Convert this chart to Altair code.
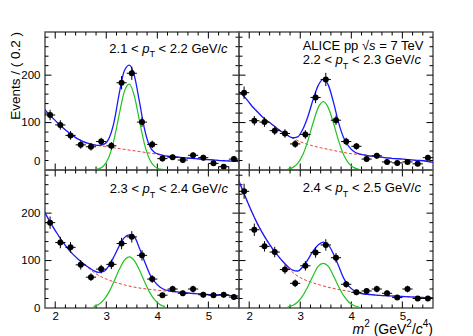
import altair as alt
import pandas as pd

FONT = "Liberation Sans"
W_PANEL = 194
H_PANEL = 138
X_DOMAIN = [1.8, 5.6]
Y_DOMAIN = [0, 291]
BIN_HALF = 0.1

# ---- data points (bin centres, counts, errors) ----
m2 = [1.9, 2.1, 2.3, 2.5, 2.7, 2.9, 3.1, 3.3, 3.5, 3.7, 3.9, 4.1, 4.3, 4.5, 4.7, 4.9, 5.1, 5.3, 5.5]

counts_tl = [116, 95, 73, 53, 49, 60, 51, 184, 204, 101, 54, 24, 27, 21, 31, 26, 14, 7, 23]
counts_tr = [163, 104, 101, 83, 77, 55, 75, 153, 191, 105, 60, 50, 23, 30, 17, 15, 17, 13, 26]
counts_bl = [180, 138, 128, 91, 65, 82, 92, 136, 150, 111, 61, 27, 40, 31, 40, 28, 27, 28, 23]
counts_br = [246, 165, 130, 118, 81, 52, 89, 117, 133, 106, 50, 33, 36, 40, 31, 22, 40, 20, 20]

err_tl = [11, 10, 9, 8, 8, 8, 8, 14, 14, 10, 8, 6, 6, 5, 6, 6, 5, 5, 6]
err_tr = [13, 10, 10, 9, 9, 8, 9, 12, 14, 10, 8, 7, 5, 6, 5, 5, 5, 5, 6]
err_bl = [13, 12, 11, 10, 8, 9, 10, 12, 12, 11, 8, 6, 7, 6, 7, 6, 6, 6, 5]
err_br = [16, 13, 11, 11, 9, 8, 10, 11, 12, 10, 7, 6, 6, 7, 6, 5, 7, 5, 5]

# ---- total fit (blue) ----
curve_x = [1.75, 1.85, 1.95, 2.05, 2.15, 2.25, 2.35, 2.45, 2.55, 2.65,
           2.75, 2.85, 2.95, 3.05, 3.15, 3.25, 3.35, 3.45, 3.55, 3.65,
           3.75, 3.85, 3.95, 4.05, 4.15, 4.25, 4.35, 4.45, 4.55, 4.65,
           4.75, 4.85, 4.95, 5.05, 5.15, 5.25, 5.35, 5.45, 5.55, 5.65]
blue_tl = [133, 121, 110, 99, 89, 80, 72, 65, 60, 56,
           53.5, 52, 54, 66, 100, 159, 208, 221, 199, 144,
           86, 50, 37, 32.5, 30, 28.5, 27.5, 26.6, 25.7, 24.8,
           23.9, 23, 22.1, 21.6, 20.7, 19.8, 19.4, 18.9, 18, 17.5]
blue_tr = [171, 160, 149, 135, 124, 113, 104, 96, 87.5, 79.5,
           73, 68, 70, 86, 113, 148, 178, 191, 179, 143,
           100, 68, 50, 39, 34, 32, 30, 29, 27.5, 26,
           25, 24, 23.5, 22.5, 21.5, 20.5, 20, 19, 17, 15.5]
blue_bl = [210, 191, 172, 155, 139, 125, 113, 103, 94, 86,
           79, 75, 77, 89, 108, 130, 148, 154, 150, 126,
           98, 72, 55, 44.5, 38.5, 36, 34.5, 33.3, 32.2, 31,
           30.3, 29.5, 28.8, 28.2, 27.7, 27.2, 26.7, 26.2, 25.7, 25.2]
blue_br = [282, 254, 228, 203, 180, 160, 142, 126, 112, 99,
           88, 80, 78, 87, 102, 120, 133, 139, 133, 114,
           89, 63, 46, 37, 32, 29.5, 28.5, 27.5, 26.5, 26,
           25.5, 25, 24.5, 24, 23.5, 23, 22.5, 22, 22, 21.5]

# ---- background component (red dashed) ----
bkg_x = [1.8, 2.0, 2.2, 2.4, 2.6, 2.8, 3.0, 3.2, 3.4, 3.6,
         3.8, 4.0, 4.2, 4.4, 4.6, 4.8, 5.0, 5.2, 5.4, 5.6]
red_tl = [126.4, 104.7, 84.8, 68.6, 57.7, 52.3, 49.2, 46, 42.8, 39.7,
          36.5, 33.3, 29, 27, 25.2, 23.4, 21.9, 20.3, 19.1, 17.8]
red_tr = [165, 142.6, 118, 100, 84, 70.4, 59.5, 52.3, 46.9, 42.4,
          37.9, 34.3, 32.4, 29.3, 27, 24.8, 23, 21.2, 19.4, 16.2]
red_bl = [200, 163, 132, 108, 89, 72, 61, 53.5, 47.5, 43,
          40, 37.5, 35.5, 33.5, 31.5, 30, 28.5, 27.5, 26.5, 25.5]
red_br = [267, 215, 170, 134, 105, 80, 64, 55, 48, 42.5,
          38, 34.5, 31, 28, 26.2, 25.2, 24.2, 23.2, 22.2, 21.7]

# ---- signal component (green) ----
sig_x = [2.75, 2.85, 2.95, 3.05, 3.15, 3.25, 3.35, 3.45, 3.55, 3.65, 3.75, 3.85, 3.95, 4.05, 4.15]
green_tl = [0.5, 2.3, 9, 27, 63, 115, 164, 181, 156, 104, 54, 22, 7, 1.7, 0.4]
green_tr = [1.5, 5, 14, 32, 62, 99, 131, 144, 131, 99, 62, 32, 14, 5, 1.5]
green_bl = [2.9, 7.5, 17, 33, 55.5, 80, 100, 108, 100, 80, 55.5, 33, 17, 7.5, 2.9]
green_br = [1.9, 5.3, 12.7, 26, 45.4, 68, 87.7, 94, 87.7, 68, 45.4, 26, 12.7, 5.3, 1.9]

# ---- ticks ----
x_major = [2, 3, 4, 5]
x_minor = [2.2, 2.4, 2.6, 2.8, 3.2, 3.4, 3.6, 3.8, 4.2, 4.4, 4.6, 4.8, 5.2, 5.4]
y_major = [100, 200]
y_minor = [20, 40, 60, 80, 120, 140, 160, 180, 220, 240, 260, 280]
y_labels = [0, 100, 200]
x_labels = [2, 3, 4, 5]

MAJ_LEN = 6.5
MIN_LEN = 3.5
LABEL_SIZE = 11.5

xs = alt.Scale(domain=X_DOMAIN, nice=False, zero=False)
ys = alt.Scale(domain=Y_DOMAIN, nice=False, zero=False)

WIDTHS = {' ': .278, '(': .333, ')': .333, '.': .278, '/': .278, '<': .584, '=': .584,
          'A': .667, 'C': .722, 'E': .667, 'G': .778, 'I': .278, 'L': .556, 'T': .611,
          'V': .667, 'c': .5, 'e': .556, 'm': .833, 'p': .556, 's': .5, '\u221a': .549}


def tw(s, size):
    return sum(WIDTHS.get(c, .556) for c in s) * size


ONE = pd.DataFrame({"k": [0]})


def text_piece(txt, x, y, size, italic=False, angle=None, align="left", baseline="alphabetic"):
    kw = dict(text=txt, align=align, baseline=baseline, fontSize=size, font=FONT, color="black")
    if italic:
        kw["fontStyle"] = "italic"
    if angle is not None:
        kw["angle"] = angle
    return alt.Chart(ONE).mark_text(**kw).encode(x=alt.value(x), y=alt.value(y))


def seg_width(segs, size):
    small = round(size * 0.7)
    tot = 0
    for txt, st in segs:
        if st == "gap":
            tot += WIDTHS[' '] * size
        else:
            tot += tw(txt, small if st in ("sub", "sup") else size)
    return tot


def rich(segs, x0, y0, size=13):
    out = []
    x = x0
    small = round(size * 0.7)
    for txt, st in segs:
        if st == "gap":
            x += WIDTHS[' '] * size
            continue
        fs = small if st in ("sub", "sup") else size
        dy = 0.38 * size if st == "sub" else (-0.45 * size if st == "sup" else 0)
        out.append(text_piece(txt, x, y0 + dy, fs, italic=(st == "i")))
        x += tw(txt, fs)
    return out


def pt_label(lo, hi):
    return [(f"{lo} <", "n"), (" ", "gap"), ("p", "i"), ("T", "sub"), (" ", "gap"),
            (f"< {hi} GeV/", "n"), ("c", "i")]


def x_axis(show):
    if not show:
        return None
    return alt.Axis(values=x_labels, title=None, ticks=False, tickSize=0, domain=False, grid=False,
                    labelPadding=2, labelFontSize=LABEL_SIZE, labelFont=FONT, labelColor="black", format="d")


def y_axis(show, raise_zero):
    if not show:
        return None
    kw = dict(values=y_labels, title=None, ticks=False, tickSize=0, domain=False, grid=False,
              labelPadding=5, labelFontSize=LABEL_SIZE, labelFont=FONT, labelColor="black", format="d")
    if raise_zero:
        kw["labelOffset"] = {"condition": {"test": "datum.value === 0", "value": -9}, "value": 0}
    return alt.Axis(**kw)


def panel(counts, err, blue, red, green, texts, show_x, show_y, raise_zero=False):
    xa = x_axis(show_x)
    ya = y_axis(show_y, raise_zero)

    def X(f):
        return alt.X(f"{f}:Q", scale=xs, axis=xa)

    def Y(f):
        return alt.Y(f"{f}:Q", scale=ys, axis=ya)

    pts = pd.DataFrame({"m2": m2, "val": counts, "err": err})
    pts["lo"] = pts["val"] - pts["err"]
    pts["hi"] = pts["val"] + pts["err"]
    pts["xl"] = pts["m2"] - BIN_HALF
    pts["xr"] = pts["m2"] + BIN_HALF

    blue_df = pd.DataFrame({"m2": curve_x, "val": blue})
    red_df = pd.DataFrame({"m2": bkg_x, "val": red})
    green_df = pd.DataFrame({"m2": sig_x, "val": green})

    xt_maj = pd.DataFrame({"m2": x_major})
    xt_min = pd.DataFrame({"m2": x_minor})
    yt_maj = pd.DataFrame({"val": y_major})
    yt_min = pd.DataFrame({"val": y_minor})

    tick = dict(color="black", strokeWidth=1)
    layers = [
        alt.Chart(xt_maj).mark_rule(**tick).encode(x=X("m2"), y=alt.value(H_PANEL), y2=alt.value(H_PANEL - MAJ_LEN)),
        alt.Chart(xt_maj).mark_rule(**tick).encode(x=X("m2"), y=alt.value(0), y2=alt.value(MAJ_LEN)),
        alt.Chart(xt_min).mark_rule(**tick).encode(x=X("m2"), y=alt.value(H_PANEL), y2=alt.value(H_PANEL - MIN_LEN)),
        alt.Chart(xt_min).mark_rule(**tick).encode(x=X("m2"), y=alt.value(0), y2=alt.value(MIN_LEN)),
        alt.Chart(yt_maj).mark_rule(**tick).encode(y=Y("val"), x=alt.value(0), x2=alt.value(MAJ_LEN)),
        alt.Chart(yt_maj).mark_rule(**tick).encode(y=Y("val"), x=alt.value(W_PANEL), x2=alt.value(W_PANEL - MAJ_LEN)),
        alt.Chart(yt_min).mark_rule(**tick).encode(y=Y("val"), x=alt.value(0), x2=alt.value(MIN_LEN)),
        alt.Chart(yt_min).mark_rule(**tick).encode(y=Y("val"), x=alt.value(W_PANEL), x2=alt.value(W_PANEL - MIN_LEN)),
        alt.Chart(red_df).mark_line(color="#e3443c", strokeWidth=1, strokeDash=[3, 2], interpolate="monotone", clip=True)
            .encode(x=X("m2"), y=Y("val")),
        alt.Chart(green_df).mark_line(color="#22c322", strokeWidth=1.2, interpolate="monotone", clip=True)
            .encode(x=X("m2"), y=Y("val")),
        alt.Chart(blue_df).mark_line(color="#1a1aff", strokeWidth=1.3, interpolate="monotone", clip=True)
            .encode(x=X("m2"), y=Y("val")),
        alt.Chart(pts).mark_rule(color="black", strokeWidth=1, clip=True)
            .encode(x=X("m2"), y=Y("lo"), y2="hi:Q"),
        alt.Chart(pts).mark_rule(color="black", strokeWidth=1, clip=True)
            .encode(x=X("xl"), x2="xr:Q", y=Y("val")),
        alt.Chart(pts).mark_circle(color="black", size=36, opacity=1)
            .encode(x=X("m2"), y=Y("val")),
    ]
    layers += texts
    return alt.layer(*layers).properties(width=W_PANEL, height=H_PANEL)


# texts
tl_texts = rich(pt_label("2.1", "2.2"), 64.3, 20.5)
tl_texts.append(text_piece("Events / ( 0.2 )", -29, 0, 13.5, angle=270, align="right", baseline="middle"))

tr_texts = rich([("ALICE pp \u221a", "n"), ("s", "i"), (" ", "gap"), ("= 7 TeV", "n")], 63.7, 17.7)
tr_texts += rich(pt_label("2.2", "2.3"), 63.7, 32.3)

bl_texts = rich(pt_label("2.3", "2.4"), 64.7, 23)

xt_segs = [("m", "i"), ("2", "sup"), (" ", "gap"), ("(GeV", "n"), ("2", "sup"), ("/", "n"),
           ("c", "i"), ("4", "sup"), (")", "n")]
br_texts = rich(pt_label("2.4", "2.5"), 63.7, 21.6)
br_texts += rich(xt_segs, W_PANEL - seg_width(xt_segs, 14), H_PANEL + 25.5, size=14)

tl = panel(counts_tl, err_tl, blue_tl, red_tl, green_tl, tl_texts, False, True, raise_zero=True)
tr = panel(counts_tr, err_tr, blue_tr, red_tr, green_tr, tr_texts, False, False)
bl = panel(counts_bl, err_bl, blue_bl, red_bl, green_bl, bl_texts, True, True)
br = panel(counts_br, err_br, blue_br, red_br, green_br, br_texts, True, False)

chart = alt.concat(tl, tr, bl, br, columns=2, spacing=0, bounds="flush").properties(
    padding={"left": 0, "top": 22, "right": 4, "bottom": 4}
).configure_view(stroke="#555555", strokeWidth=1.5)

chart.save("out.html", embed_options={"renderer": "svg", "actions": False})
